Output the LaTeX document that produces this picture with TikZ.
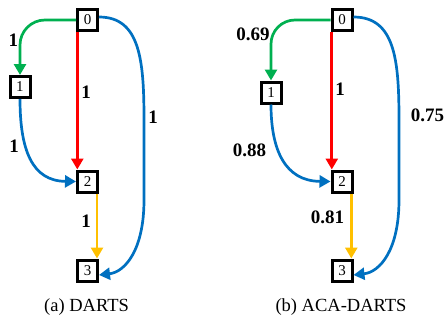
\documentclass[tikz,border=0pt]{standalone}
\usepackage{fontspec}
\setmainfont{Liberation Serif}
\usetikzlibrary{arrows.meta,calc}
\definecolor{cgreen}{RGB}{0,176,80}
\definecolor{cred}{RGB}{255,0,0}
\definecolor{cblue}{RGB}{0,112,192}
\definecolor{cyellow}{RGB}{255,192,0}
\tikzset{
  cell/.style={draw=black,line width=3pt,fill=white,minimum width=20pt,minimum height=21pt,inner sep=0pt,font=\fontsize{15}{15}\selectfont},
  edge/.style={line width=2.7pt,-{Triangle[length=11pt,width=12pt]}},
  wlabel/.style={font=\fontsize{19}{19}\selectfont\bfseries,inner sep=0pt},
  caption/.style={font=\fontsize{18.5}{18.5}\selectfont,inner sep=0pt}
}
\begin{document}
\begin{tikzpicture}[x=1pt,y=-1pt]
\useasboundingbox (0,0) rectangle (445,322);
% ---------- (a) DARTS ----------
\node[cell] (a0) at (87.5,20) {0};
\node[cell] (a1) at (20,87) {1};
\node[cell] (a2) at (87.5,181.5) {2};
\node[cell] (a3) at (87.5,270.5) {3};
\draw[edge,cgreen,rounded corners=25pt] (a0.west) -| (a1.north);
\draw[edge,cred] ($(a0.south west)+(1.3,0)$) -- ($(a2.north west)+(1.3,0)$);
\draw[edge,cblue] (a1.south) .. controls (20,150) and (32,181) .. (a2.west);
\draw[edge,cyellow] ($(a2.south east)+(-2,0)$) -- ($(a3.north east)+(-2,0)$);
\draw[edge,cblue] ($(a0.east)+(0,-3)$) .. controls (140,17) and (144,60) .. (144,120) -- (144,200) .. controls (144,250) and (125,272) .. ($(a3.east)+(0,4.5)$);
\node[wlabel] (la01) at (13.5,40) {1};
\node[wlabel] (la02) at (86,92) {1};
\node[wlabel] (la12) at (14,146) {1};
\node[wlabel] (la03) at (153,117) {1};
\node[wlabel] (la23) at (86,221) {1};
\node[caption] (capa) at (86.5,307) {(a) DARTS};
% ---------- (b) ACA-DARTS ----------
\node[cell] (b0) at (342,20) {0};
\node[cell] (b1) at (271,92.5) {1};
\node[cell] (b2) at (342,181.5) {2};
\node[cell] (b3) at (342,270.5) {3};
\draw[edge,cgreen,rounded corners=24pt] (b0.west) -| (b1.north);
\draw[edge,cred] ($(b0.south west)+(1.3,0)$) -- ($(b2.north west)+(1.3,0)$);
\draw[edge,cblue] (b1.south) .. controls (271,150) and (285,181) .. (b2.west);
\draw[edge,cyellow] ($(b2.south east)+(-2.2,0)$) -- ($(b3.north east)+(-2.2,0)$);
\draw[edge,cblue] ($(b0.east)+(0,-3)$) .. controls (395,17) and (399,60) .. (399,120) -- (399,200) .. controls (399,250) and (380,272) .. ($(b3.east)+(0,4.5)$);
\node[wlabel] (lb01) at (253,34.5) {0.69};
\node[wlabel] (lb02) at (340,89) {1};
\node[wlabel] (lb12) at (249.5,150) {0.88};
\node[wlabel] (lb03) at (427.5,115) {0.75};
\node[wlabel] (lb23) at (327.5,217) {0.81};
\node[caption] (capb) at (341,307) {(b) ACA-DARTS};
\end{tikzpicture}
\end{document}
